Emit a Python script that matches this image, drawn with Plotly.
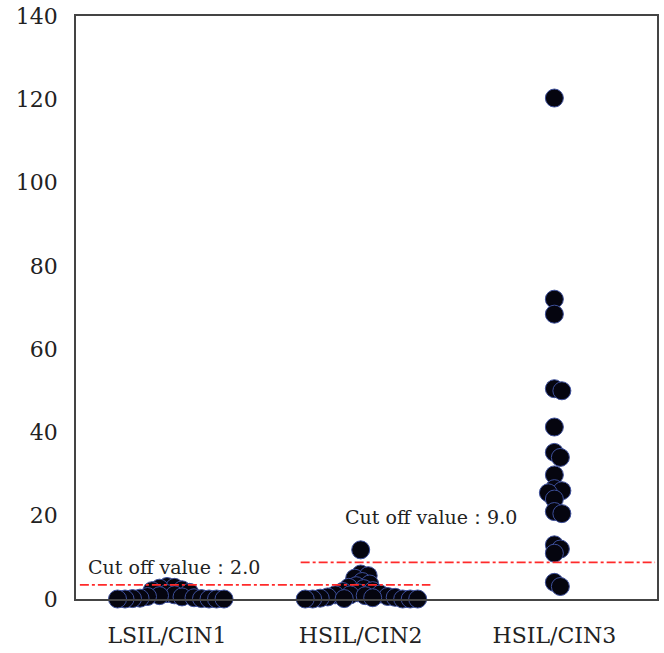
import plotly.graph_objects as go

categories = ["LSIL/CIN1", "HSIL/CIN2", "HSIL/CIN3"]
lsil_cin1 = [3.0, 2.8, 2.6, 2.2, 2.0, 1.6, 1.3, 1.0, 0.8, 0.6, 0.5, 0.3, 0.2, 0.1, 0.1, 0, 0, 0, 0, 0]
hsil_cin2 = [11.8, 6.0, 5.6, 5.0, 4.2, 3.6, 3.2, 2.8, 2.5, 2.0, 1.8, 1.5, 1.2, 1.0, 1.0,
             0.8, 0.6, 0.5, 0.4, 0.3, 0.2, 0.1, 0, 0, 0, 0, 0]
hsil_cin3 = [120.3, 72.0, 68.4, 50.5, 50.0, 41.3, 35.2, 34.0, 29.8, 26.5, 26.0, 25.5, 24.0,
             21.0, 20.5, 13.0, 12.0, 11.0, 4.0, 3.0]
groups = [lsil_cin1, hsil_cin2, hsil_cin3]

cutoff_labels = ["Cut off value：2.0", "Cut off value：9.0"]
cutoff_levels = [3.4, 8.8]
cutoff_spans = [(-0.45, 1.36), (0.69, 2.52)]

y_ticks = [0, 20, 40, 60, 80, 100, 120, 140]

W, H = 664, 653
ML, MR, MT, MB = 76, 7, 16, 54
xr = (-0.47, 2.53)
yr = (0, 140)
pw, ph = W - ML - MR, H - MT - MB
sx = pw / (xr[1] - xr[0])
sy = ph / (yr[1] - yr[0])


def swarm(vals, mind=7.0, step=1.5):
    placed = []
    offs = [0.0] * len(vals)
    order = sorted(range(len(vals)), key=lambda i: -vals[i])
    for i in order:
        ypx = vals[i] * sy
        k = 0
        while True:
            cands = [0.0] if k == 0 else [k * step, -k * step]
            ok_c = None
            for c in cands:
                if all((c - px) ** 2 + (ypx - py) ** 2 >= mind ** 2 for px, py in placed):
                    ok_c = c
                    break
            if ok_c is not None:
                placed.append((ok_c, ypx))
                offs[i] = ok_c / sx
                break
            k += 1
    return offs


fig = go.Figure()
for gi, vals in enumerate(groups):
    offs = swarm(vals)
    fig.add_trace(go.Scatter(
        x=[gi + o for o in offs], y=vals, mode="markers",
        marker=dict(size=18, color="#05050f", line=dict(color="#3d4f9a", width=1)),
        showlegend=False, hoverinfo="y", cliponaxis=False))

for lvl, (x0, x1) in zip(cutoff_levels, cutoff_spans):
    fig.add_trace(go.Scatter(x=[x0, x1], y=[lvl, lvl], mode="lines",
                             line=dict(color="#ff2a2a", width=1.6, dash="dashdot"),
                             showlegend=False, hoverinfo="skip"))

font = "DejaVu Serif"
fig.add_annotation(x=-0.42, y=7.8, xref="x", yref="y", text=cutoff_labels[0],
                   showarrow=False, xanchor="left", yanchor="middle",
                   font=dict(family=font, size=19, color="#222"))
fig.add_annotation(x=0.91, y=19.8, xref="x", yref="y", text=cutoff_labels[1],
                   showarrow=False, xanchor="left", yanchor="middle",
                   font=dict(family=font, size=19, color="#222"))

fig.update_layout(
    width=W, height=H, margin=dict(l=ML, r=MR, t=MT, b=MB, autoexpand=False),
    plot_bgcolor="white", paper_bgcolor="white",
    font=dict(family=font, color="#222"),
)
fig.update_xaxes(range=list(xr), tickvals=[0, 1, 2], ticktext=categories,
                 showgrid=False, zeroline=False, showline=True, mirror=True,
                 linecolor="#444", linewidth=1.5, ticks="", automargin=False,
                 tickfont=dict(family=font, size=22, color="#222"), ticklabelstandoff=16)
fig.update_yaxes(range=list(yr), tickvals=y_ticks,
                 showgrid=False, zeroline=False, showline=True, mirror=True,
                 linecolor="#444", linewidth=1.5, ticks="", automargin=False,
                 tickfont=dict(family=font, size=22, color="#222"), ticklabelstandoff=12)

fig.write_html("out.html", config={"displayModeBar": False},
               post_script="document.body.style.margin='0';document.body.style.overflow='hidden';")
